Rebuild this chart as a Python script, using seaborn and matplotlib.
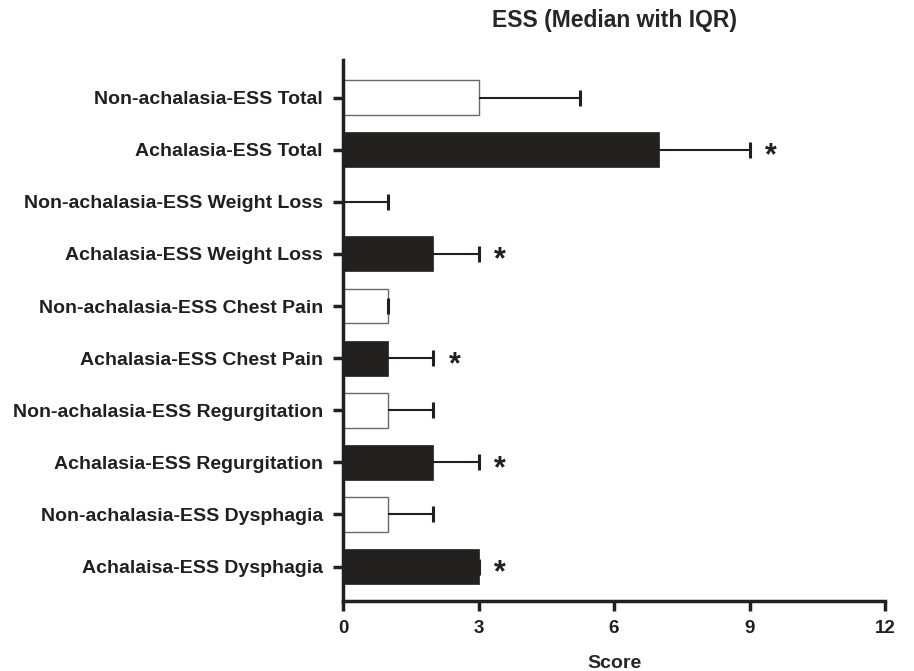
import matplotlib
matplotlib.use("Agg")
import matplotlib.pyplot as plt
import seaborn as sns
import pandas as pd
import numpy as np

categories = [
    "Non-achalasia-ESS Total",
    "Achalasia-ESS Total",
    "Non-achalasia-ESS Weight Loss",
    "Achalasia-ESS Weight Loss",
    "Non-achalasia-ESS Chest Pain",
    "Achalasia-ESS Chest Pain",
    "Non-achalasia-ESS Regurgitation",
    "Achalasia-ESS Regurgitation",
    "Non-achalasia-ESS Dysphagia",
    "Achalaisa-ESS Dysphagia",
]
groups = ["Non-achalasia", "Achalasia"] * 5
medians = [3, 7, 0, 2, 1, 1, 1, 2, 1, 3]
upper_q = [5.25, 9, 1, 3, 1, 2, 2, 3, 2, 3]
significant = [False, True, False, True, False, True, False, True, False, True]
x_ticks = [0, 3, 6, 9, 12]

df = pd.DataFrame({"category": categories, "group": groups, "median": medians})

sns.set_theme(style="ticks")
plt.rcParams["font.family"] = ["Liberation Sans", "DejaVu Sans"]
plt.rcParams["font.weight"] = "bold"

fig = plt.figure(figsize=(9.14, 6.71), dpi=100)
ax = fig.add_axes([343 / 914, 1 - 601 / 671, (885 - 343) / 914, (601 - 60) / 671])

palette = {"Non-achalasia": "white", "Achalasia": "#231f20"}
sns.barplot(data=df, y="category", x="median", hue="group", palette=palette,
            dodge=False, orient="h", width=0.67, ax=ax, legend=False,
            order=categories)

for bar in ax.patches:
    fc = bar.get_facecolor()
    if fc[0] > 0.9:
        bar.set_edgecolor("#6a6a6a")
        bar.set_linewidth(1.0)
    else:
        bar.set_edgecolor("#231f20")
        bar.set_linewidth(0.5)

ypos = np.arange(len(categories))
med = np.array(medians, dtype=float)
up = np.array(upper_q, dtype=float)
eb = ax.errorbar(med, ypos, xerr=[np.zeros_like(med), up - med], fmt="none",
                 ecolor="#231f20", elinewidth=1.5, capsize=6, capthick=2.2, zorder=3)
# only the upper (right) cap is drawn, as in a one-sided IQR bar
caplines = eb[1]
if len(caplines) >= 2:
    caplines[0].set_visible(False)

for y, u, s in zip(ypos, up, significant):
    if s:
        ax.text(u + 0.48, y + 0.13, "*", fontsize=22, fontweight="bold",
                ha="center", va="center", color="#231f20")

ax.set_xlim(0, 12)
ax.set_ylim(9.66, -0.72)
ax.set_xticks(x_ticks)
ax.set_xticklabels([str(t) for t in x_ticks], fontsize=13.5, fontweight="bold")
for lbl in ax.get_yticklabels():
    lbl.set_fontsize(14)
    lbl.set_fontweight("bold")
ax.set_ylabel("")
ax.set_xlabel("Score", fontsize=14, fontweight="bold", labelpad=13)
ax.set_title("ESS (Median with IQR)", fontsize=16.5, fontweight="bold", pad=24)

for side in ["top", "right"]:
    ax.spines[side].set_visible(False)
for side in ["left", "bottom"]:
    ax.spines[side].set_linewidth(2.5)
    ax.spines[side].set_color("#231f20")
ax.tick_params(axis="y", length=7.5, width=2.5, pad=7, colors="#231f20")
ax.tick_params(axis="x", length=7.5, width=2.5, pad=6, colors="#231f20")

fig.savefig("out.png", dpi=100)
